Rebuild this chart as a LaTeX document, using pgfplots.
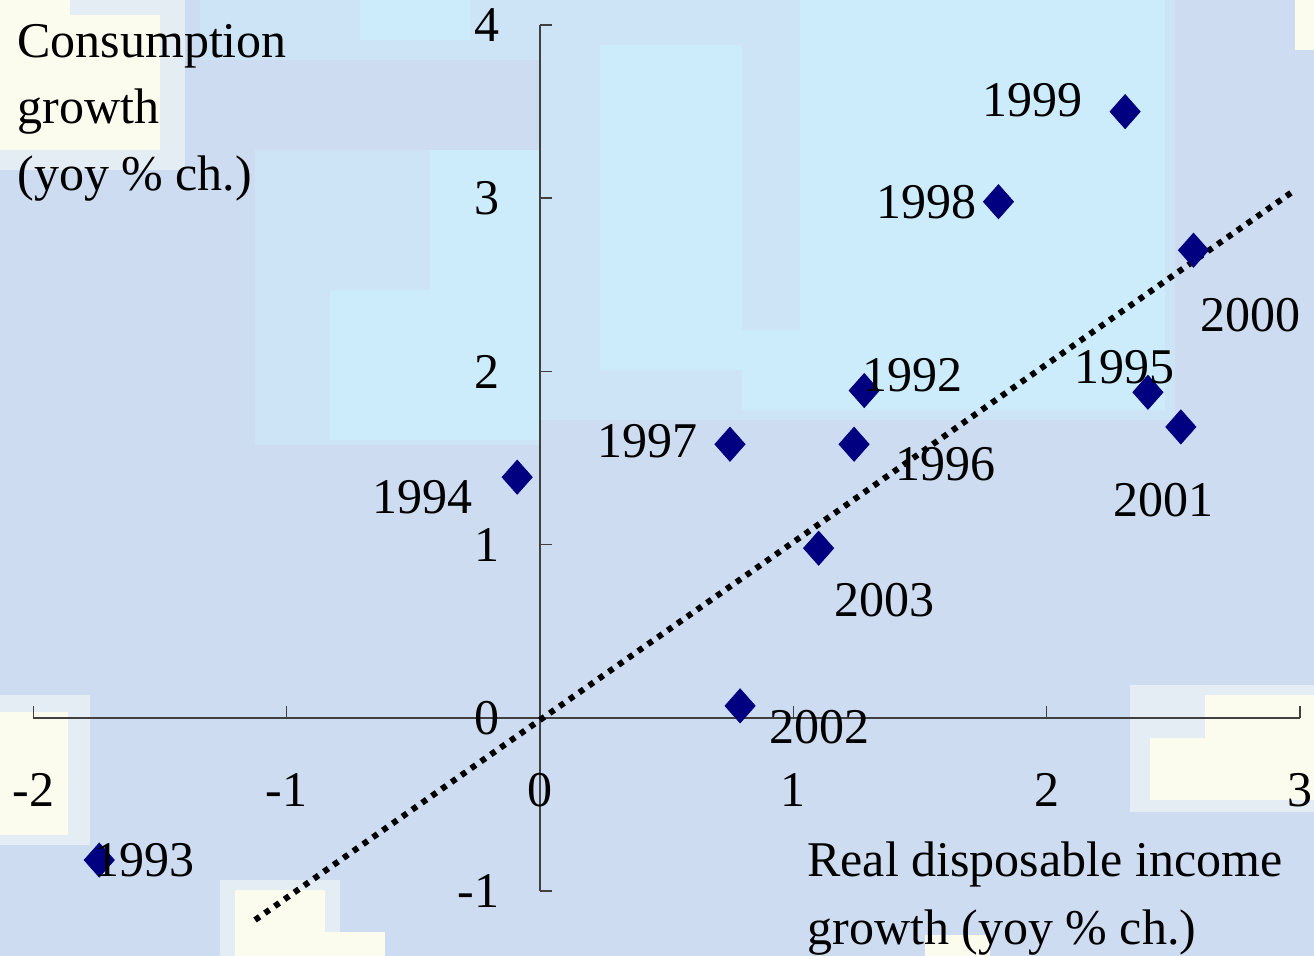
\documentclass[border=0pt]{standalone}
\usepackage{pgfplots}
\pgfplotsset{compat=1.18}
\usepackage{fontspec}
\setmainfont{Liberation Serif}

\definecolor{lav}{RGB}{205,220,240}
\definecolor{lavcyan}{RGB}{205,228,246}
\definecolor{cyanbg}{RGB}{205,236,251}
\definecolor{cream}{RGB}{252,252,238}
\definecolor{creamhalo}{RGB}{228,237,244}
\definecolor{navy}{RGB}{0,0,128}
\definecolor{axisgray}{RGB}{64,64,64}

\newcommand{\lbl}{\fontsize{25}{33.5}\selectfont}

\pgfplotstableread{
x      y      label  dx     dy
1.28   1.89   1992   24     7.5
-1.74  -0.82  1993   22.5   0
-0.09  1.39   1994   -47.5  -10
2.40   1.88   1995   -11.5  12.5
1.24   1.58   1996   45.5   -10
0.75   1.58   1997   -41    1.5
1.81   2.98   1998   -36    0
2.31   3.50   1999   -46.5  5.5
2.58   2.70   2000   28.5   -32.5
2.53   1.68   2001   -8.5   -36.5
0.79   0.07   2002   39.5   -10.5
1.10   0.98   2003   33     -26
}\scatterdata

\begin{document}
\begin{tikzpicture}
% map-like backdrop, in 0.5pt units from the top-left corner
\begin{scope}[x=0.5pt,y=-0.5pt]
  \path[use as bounding box] (0,0) rectangle (1314,956);
  \fill[lav] (0,0) rectangle (1314,956);
  % sea-coloured areas
  \fill[lavcyan] (540,0) rectangle (1175,420);
  \fill[lavcyan] (255,150) rectangle (540,445);
  \fill[lavcyan] (200,0) rectangle (540,60);
  \fill[cyanbg] (600,45) rectangle (742,370);
  \fill[cyanbg] (800,0) rectangle (1165,410);
  \fill[cyanbg] (742,330) rectangle (800,410);
  \fill[cyanbg] (330,290) rectangle (540,440);
  \fill[cyanbg] (430,150) rectangle (540,290);
  \fill[cyanbg] (360,0) rectangle (470,40);
  % pale land patches
  \fill[creamhalo] (0,0) rectangle (185,170);
  \fill[cream] (0,15) rectangle (160,150);
  \fill[cream] (0,0) rectangle (70,15);
  \fill[creamhalo] (0,695) rectangle (90,845);
  \fill[cream] (0,712) rectangle (68,835);
  \fill[creamhalo] (220,880) rectangle (340,956);
  \fill[cream] (235,890) rectangle (325,956);
  \fill[cream] (325,932) rectangle (385,956);
  \fill[creamhalo] (1130,685) rectangle (1314,812);
  \fill[cream] (1150,738) rectangle (1314,800);
  \fill[cream] (1205,695) rectangle (1314,740);
  \fill[cream] (925,935) rectangle (990,956);
  \fill[cream] (1295,0) rectangle (1314,50);
  % axis titles
  \node[anchor=base west, inner sep=0pt, font=\lbl] at (17,58) {Consumption};
  \node[anchor=base west, inner sep=0pt, font=\lbl] at (17,124) {growth};
  \node[anchor=base west, inner sep=0pt, font=\lbl] at (17,191) {(yoy \% ch.)};
  \node[anchor=base west, inner sep=0pt, font=\lbl] at (807,877) {Real disposable income};
  \node[anchor=base west, inner sep=0pt, font=\lbl] at (807,945) {growth (yoy \% ch.)};
\end{scope}

\begin{axis}[
  at={(270pt,-359pt)}, anchor=origin,
  x=126.65pt, y=86.625pt,
  xmin=-2, xmax=3, ymin=-1, ymax=4,
  axis lines=middle,
  axis line style={-, draw=axisgray, line width=0.75pt},
  xtick={-2,-1,0,1,2,3}, ytick={-1,0,1,2,3,4},
  xticklabels={-2,-1,0,1,2,3}, yticklabels={-1,0,1,2,3,4},
  hide obscured x ticks=false, hide obscured y ticks=false,
  tick align=inside, major tick length=6pt,
  tick style={draw=axisgray, line width=0.75pt},
  ticklabel style={font=\lbl, inner sep=0pt},
  xticklabel style={anchor=center, yshift=-36pt},
  yticklabel style={anchor=east, xshift=-20pt},
  clip=false,
]
\addplot[only marks, mark=diamond*, mark size=8.5pt,
  mark options={fill=navy, draw=navy, xscale=1.18},
  nodes near coords, point meta=explicit symbolic,
  visualization depends on={\thisrow{dx}\as\dx},
  visualization depends on={\thisrow{dy}\as\dy},
  every node near coord/.append style={anchor=center, inner sep=0pt,
    xshift=\dx pt, yshift=\dy pt, text=black, font=\lbl}]
  table[x=x, y=y, meta=label] {\scatterdata};
% fitted trend line
\addplot[black, line width=3pt, dash pattern=on 2.8pt off 3.2pt]
  coordinates {(-1.125,-1.166) (2.981,3.048)};
\end{axis}
\end{tikzpicture}
\end{document}
